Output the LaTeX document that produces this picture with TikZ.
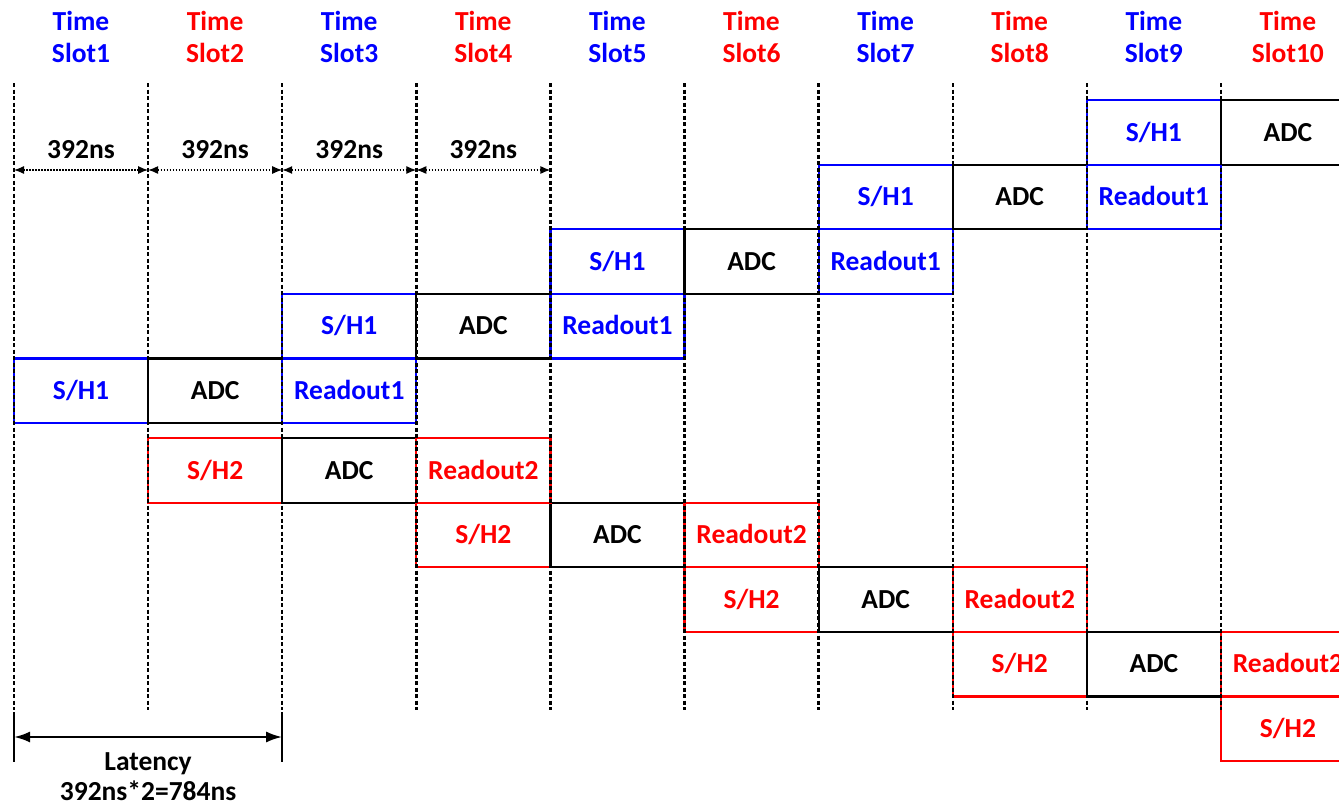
\documentclass[tikz,border=0pt]{standalone}
\usepackage{fontspec}
\setmainfont{Carlito}
\usetikzlibrary{arrows.meta}
\definecolor{cblue}{RGB}{0,0,255}
\definecolor{cred}{RGB}{255,0,0}
\begin{document}
\begin{tikzpicture}[x=1pt,y=-1pt,
  font=\fontsize{27.5}{32}\selectfont\bfseries,
  cell/.style={draw, line width=2.2pt, minimum width=134.1pt, minimum height=64.6pt,
    inner sep=0pt, outer sep=0pt, anchor=north west, text height=17.7pt, text depth=0pt},
  shb/.style={cell, draw=cblue, text=cblue},
  shr/.style={cell, draw=cred, text=cred},
  adc/.style={cell, draw=black, text=black},
  slotline/.style={line width=2.4pt, dash pattern=on 4pt off 2.5pt},
  dimline/.style={line width=1.2pt, dash pattern=on 1.5pt off 1.5pt, {Latex[length=10pt,width=8pt]}-{Latex[length=10pt,width=8pt]}},
  latline/.style={line width=2.4pt, {Latex[length=16pt,width=11pt]}-{Latex[length=16pt,width=11pt]}},
  tick/.style={line width=2.4pt},
  lbl/.style={anchor=base, inner sep=0pt}
]
\path[use as bounding box] (0,0) rectangle (1339,806);
\clip (0,0) rectangle (1339,806);

% S/H boxes
\foreach \i in {0,...,4} {
  \pgfmathsetmacro\xs{14+134.1*2*\i}
  \pgfmathsetmacro\yt{100+64.6*(4-\i)}
  \node[shb] (shA\i) at (\xs,\yt) {S/H1};
  \pgfmathsetmacro\xr{14+134.1*(2*\i+1)}
  \pgfmathsetmacro\yr{438+64.6*\i}
  \node[shr] (shB\i) at (\xr,\yr) {S/H2};
}
% ADC boxes
\foreach \i in {0,...,4} {
  \pgfmathsetmacro\xs{14+134.1*(2*\i+1)}
  \pgfmathsetmacro\yt{100+64.6*(4-\i)}
  \node[adc] (adcA\i) at (\xs,\yt) {ADC};
}
\foreach \i in {0,...,3} {
  \pgfmathsetmacro\xr{14+134.1*(2*\i+2)}
  \pgfmathsetmacro\yr{438+64.6*\i}
  \node[adc] (adcB\i) at (\xr,\yr) {ADC};
}
% Readout boxes
\foreach \i in {0,...,3} {
  \pgfmathsetmacro\xs{14+134.1*(2*\i+2)}
  \pgfmathsetmacro\yt{100+64.6*(4-\i)}
  \node[shb] (roA\i) at (\xs,\yt) {Readout1};
  \pgfmathsetmacro\xr{14+134.1*(2*\i+3)}
  \pgfmathsetmacro\yr{438+64.6*\i}
  \node[shr] (roB\i) at (\xr,\yr) {Readout2};
}

% slot boundaries and headers
\foreach \c in {1,...,10} {
  \pgfmathsetmacro\xc{14+134.1*(\c-1)}
  \pgfmathsetmacro\xm{81+134.1*(\c-1)}
  \coordinate (top\c) at (\xc,83);
  \coordinate (bot\c) at (\xc,710);
  \coordinate (dim\c) at (\xc,170);
  \draw[slotline] (top\c) -- (bot\c);
  \pgfmathtruncatemacro\odd{mod(\c,2)}
  \ifnum\odd=1 \def\hc{cblue}\else\def\hc{cred}\fi
  \node[lbl, text=\hc] (time\c) at (\xm,30) {Time};
  \node[lbl, text=\hc] (slot\c) at (\xm,62) {Slot\c};
}

% 392ns dimensions
\foreach \c/\d in {1/2,2/3,3/4,4/5} {
  \draw[dimline] (dim\c) -- (dim\d);
  \pgfmathsetmacro\xm{81+134.1*(\c-1)}
  \node[lbl] (ns\c) at (\xm,158) {392ns};
}

% latency
\coordinate (lat1t) at (14,712);
\coordinate (lat1b) at (14,762);
\coordinate (lat3t) at (282.2,712);
\coordinate (lat3b) at (282.2,762);
\coordinate (latA) at (14,737);
\coordinate (latB) at (282.2,737);
\draw[tick] (lat1t) -- (lat1b);
\draw[tick] (lat3t) -- (lat3b);
\draw[latline] (latA) -- (latB);
\node[lbl] (lattxt) at (148.1,770) {Latency};
\node[lbl] (latval) at (148.1,800) {392ns*2=784ns};
\end{tikzpicture}
\end{document}
